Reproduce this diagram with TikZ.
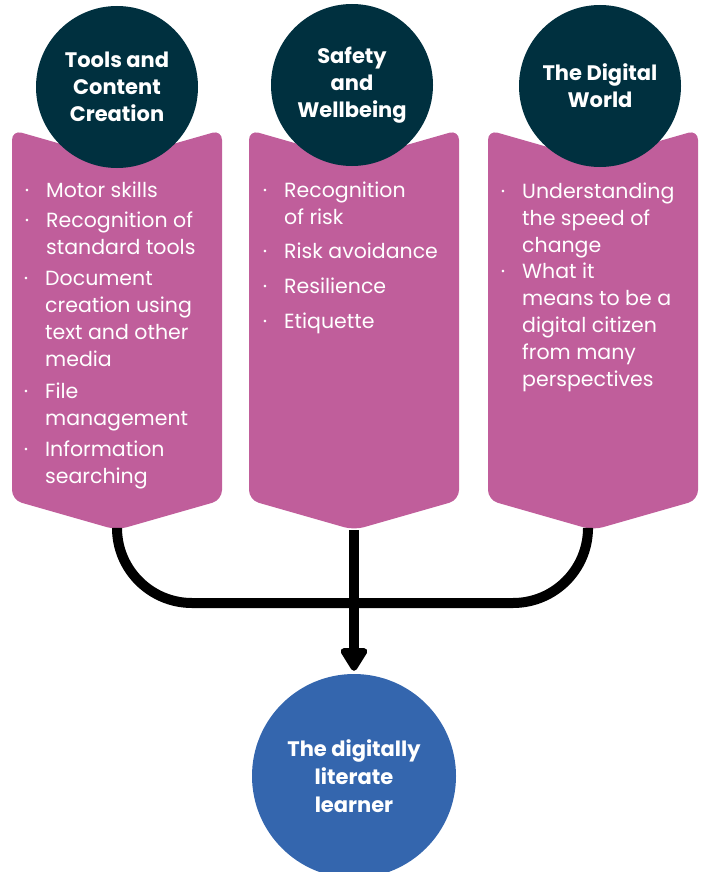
\documentclass[tikz,border=0pt]{standalone}
\usepackage{fontspec}
\setmainfont{Poppins}
\usetikzlibrary{arrows.meta}

\definecolor{pillarpink}{RGB}{192,94,155}
\definecolor{headteal}{RGB}{0,48,63}
\definecolor{learnerblue}{RGB}{52,102,174}

\tikzset{
    head/.style = {circle, fill=headteal, text=white, minimum size=162pt,
        inner sep=0pt, align=center, font=\bfseries\fontsize{21}{27}\selectfont},
    item/.style = {anchor=base west, inner sep=0pt, align=left, text=white,
        font=\fontsize{20.5}{27}\selectfont},
    dot/.style = {anchor=base, inner sep=0pt, text=white,
        font=\fontsize{20.5}{27}\selectfont},
    link/.style = {line width=10pt, black}
}

% bullet on the first line, text placed by its last line
\newcommand\entry[5]{%
    \node[dot] (#1d) at (#2-19,#3) {·};
    \node[item] (#1) at (#2,#4) {#5};}

% pink pillar with notch on top and point below
\newcommand\pillar[2]{%
    \fill[pillarpink, rounded corners=10pt] (#1-105,130) -- (#1,160) -- (#1+105,130)
        -- (#1+105,500) -- (#1,530) -- (#1-105,500) -- cycle;
    \coordinate (#2) at (#1,530);}

\begin{document}
\begin{tikzpicture}[x=1pt, y=-1pt]
    \useasboundingbox (0,0) rectangle (705,872);

    \pillar{117}{tipa}
    \pillar{354}{tipb}
    \pillar{593}{tipc}

    \node[head] (tools) at (117,87) {Tools and\\Content\\Creation};
    \node[head] (safety) at (352,85) {Safety\\and\\Wellbeing};
    \node[head] (world) at (600,86) {The Digital\\World};

    \node[circle, fill=learnerblue, text=white, minimum size=204pt, inner sep=0pt,
        align=center, font=\bfseries\fontsize{21}{28}\selectfont] (learner) at (354,776)
        {The digitally\\literate\\learner};

    % first column
    \entry{motor}{46}{197}{197}{Motor skills}
    \entry{tools}{46}{227}{254}{Recognition of\\standard tools}
    \entry{docs}{45}{285}{366}{Document\\creation using\\text and other\\media}
    \entry{files}{45}{398}{425}{File\\management}
    \entry{search}{45}{456}{483}{Information\\searching}

    % second column
    \entry{risk}{284}{197}{224}{Recognition\\of risk}
    \entry{avoid}{284}{258}{258}{Risk avoidance}
    \entry{resil}{284}{293}{293}{Resilience}
    \entry{etiq}{284}{328}{328}{Etiquette}

    % third column
    \entry{speed}{522}{198}{252}{Understanding\\the speed of\\change}
    \entry{citizen}{522}{278}{386}{What it\\means to be a\\digital citizen\\from many\\perspectives}

    % connectors
    \coordinate (join) at (354,603);
    \coordinate (endc) at ([xshift=-5pt]tipc);
    \draw[link, rounded corners=75pt] (tipa) |- (join) -| (endc);
    \draw[link, -{Triangle[width=30pt, length=26pt, round]}, shorten >=3pt]
        (tipb) -- (learner.north);
\end{tikzpicture}
\end{document}
